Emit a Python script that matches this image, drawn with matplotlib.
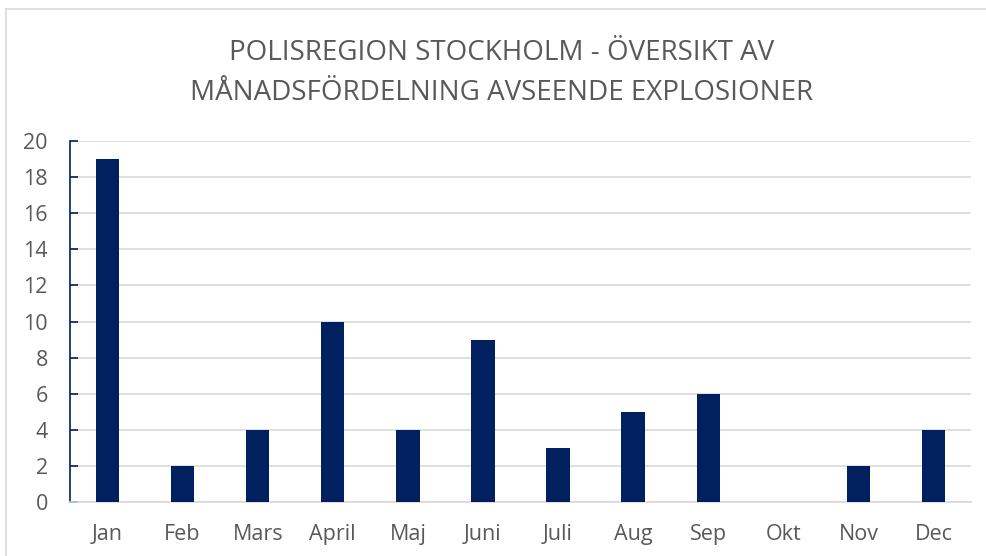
import matplotlib
matplotlib.use("Agg")
import matplotlib.pyplot as plt
from matplotlib.lines import Line2D

months = ['Jan', 'Feb', 'Mars', 'April', 'Maj', 'Juni', 'Juli', 'Aug', 'Sep', 'Okt', 'Nov', 'Dec']
explosions = [19, 2, 4, 10, 4, 9, 3, 5, 6, 0, 2, 4]
yticks = list(range(0, 21, 2))

navy = '#002060'
grey_txt = '#595959'
grid_col = '#d9d9d9'

plt.rcParams['font.family'] = ['Open Sans', 'DejaVu Sans']

fig = plt.figure(figsize=(9.87, 5.56), dpi=100)
ax = fig.add_axes([0.0709, 0.0971, 0.9129, 0.6493])

x = list(range(len(months)))
ax.bar(x, explosions, width=0.31, color=navy, zorder=3)

ax.set_xlim(-0.5, len(months) - 0.5)
ax.set_ylim(0, 20)
ax.set_yticks(yticks)
ax.set_xticks(x)
ax.set_xticklabels(months)
ax.grid(axis='y', color=grid_col, linewidth=1.2, zorder=0)

for s in ['top', 'right']:
    ax.spines[s].set_visible(False)
ax.spines['left'].set_color(navy)
ax.spines['left'].set_linewidth(1.2)
ax.spines['bottom'].set_color(grid_col)
ax.spines['bottom'].set_linewidth(1.2)

ax.tick_params(axis='y', direction='in', length=6, color=navy, width=1.2,
               labelsize=15.5, labelcolor=grey_txt, pad=16)
ax.tick_params(axis='x', length=0, labelsize=15.5, labelcolor=grey_txt, pad=16)

fig.text(0.508, 0.868, 'POLISREGION STOCKHOLM - ÖVERSIKT AV\nMÅNADSFÖRDELNING AVSEENDE EXPLOSIONER',
         ha='center', va='center', fontsize=20, color=grey_txt, linespacing=1.58)

# chart frame (top and left edges visible)
fig.add_artist(Line2D([6 / 987, 1.0], [1 - 9 / 556, 1 - 9 / 556], color=grid_col, linewidth=1.2))
fig.add_artist(Line2D([6 / 987, 6 / 987], [0.0, 1 - 9 / 556], color=grid_col, linewidth=1.2))

fig.savefig('out.png', dpi=100)
